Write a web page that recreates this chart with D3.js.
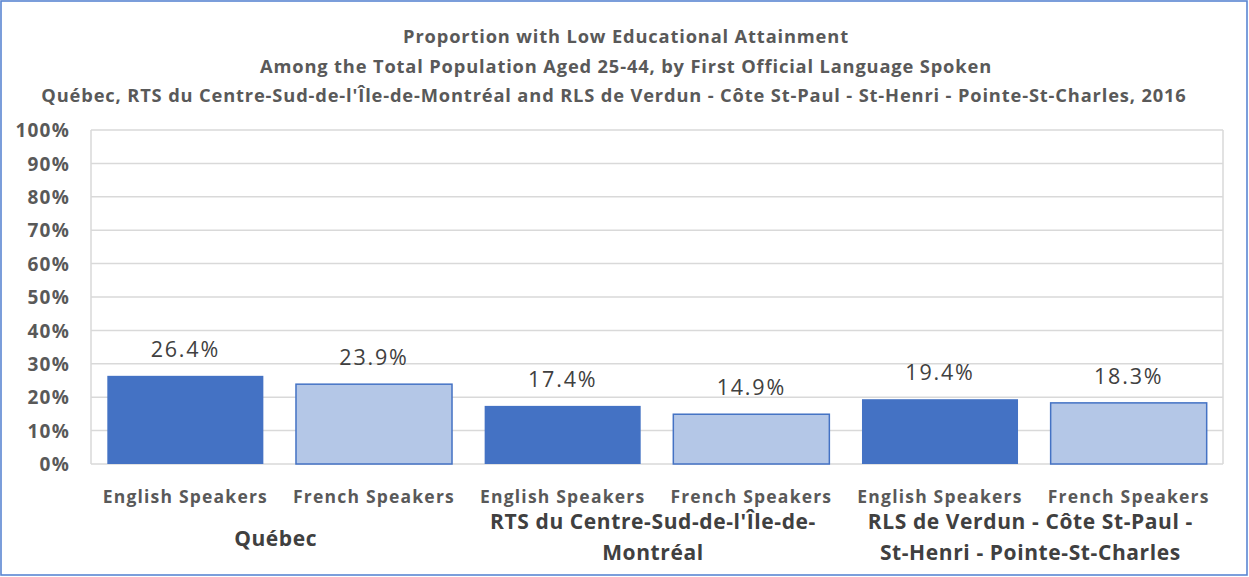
<!DOCTYPE html>
<html><head><meta charset="utf-8">
<script src="https://cdn.jsdelivr.net/npm/d3@7"></script>
<style>body{margin:0;background:#fff}svg{display:block}text{font-family:"Open Sans",Lato,sans-serif}</style>
</head><body>
<svg id="c" width="1249" height="577"></svg>
<script>
const titleLines = ["Proportion with Low Educational Attainment",
  "Among the Total Population Aged 25-44, by First Official Language Spoken",
  "Québec, RTS du Centre-Sud-de-l'Île-de-Montréal and RLS de Verdun - Côte St-Paul - St-Henri - Pointe-St-Charles, 2016"];
const groups = ["Québec", "RTS", "RLS"];
const groupLabels = [["Québec"], ["RTS du Centre-Sud-de-l'Île-de-", "Montréal"], ["RLS de Verdun  - Côte St-Paul -", "St-Henri - Pointe-St-Charles"]];
const speakers = ["English Speakers", "French Speakers"];
const values = [26.4, 23.9, 17.4, 14.9, 19.4, 18.3];
const yTicks = [0,10,20,30,40,50,60,70,80,90,100];

const svg = d3.select("#c");
const L = 91, R = 1223, T = 130, B = 464;
const cats = values.map((v,i)=>i);
const x = d3.scaleBand().domain(cats).range([L,R]).paddingInner(0.165).paddingOuter(0.0825);
const y = d3.scaleLinear().domain([0,100]).range([B,T]);

svg.append("rect").attr("x",1).attr("y",1).attr("width",1246).attr("height",574)
  .attr("fill","#fff").attr("stroke","#5A86D2").attr("stroke-width",1.6);

svg.append("g").selectAll("text").data(titleLines).join("text")
  .attr("x",(d,i)=>i===2?614:626).attr("y",(d,i)=>43+i*29.5).attr("text-anchor","middle")
  .attr("font-size",18.3).attr("letter-spacing",0.85).attr("font-weight","bold").attr("fill","#595959").text(d=>d);

// gridlines
svg.append("g").selectAll("line").data(yTicks).join("line")
  .attr("x1",L).attr("x2",R).attr("y1",d=>y(d)).attr("y2",d=>y(d))
  .attr("stroke","#D9D9D9").attr("stroke-width",1.5);
svg.append("line").attr("x1",L).attr("x2",L).attr("y1",T).attr("y2",B).attr("stroke","#D9D9D9").attr("stroke-width",1.5);
svg.append("line").attr("x1",R).attr("x2",R).attr("y1",T).attr("y2",B).attr("stroke","#D9D9D9").attr("stroke-width",1.5);

// y axis
const ya = svg.append("g").attr("transform",`translate(${L-21},0)`)
  .call(d3.axisLeft(y).tickValues(yTicks).tickFormat(d=>d+"%").tickSize(0));
ya.select(".domain").remove();
ya.selectAll("text").attr("font-size",19).attr("letter-spacing",1.2).attr("font-weight","bold").attr("fill","#595959")
  .attr("font-family","'Open Sans',Lato,sans-serif").attr("dy","0.35em").attr("x",0);

// bars
svg.append("g").selectAll("rect").data(values).join("rect")
  .attr("x",(d,i)=>x(i)+0.75).attr("width",x.bandwidth()-1.5)
  .attr("y",d=>y(d)).attr("height",d=>B-y(d))
  .attr("fill",(d,i)=>i%2===0?"#4472C4":"#B4C7E7")
  .attr("stroke","#4472C4").attr("stroke-width",(d,i)=>i%2===0?0:1.5);

// value labels
svg.append("g").selectAll("text").data(values).join("text")
  .attr("x",(d,i)=>x(i)+x.bandwidth()/2).attr("y",d=>y(d)-19)
  .attr("text-anchor","middle").attr("font-size",21.5).attr("letter-spacing",1.8).attr("fill","#404040")
  .text(d=>d.toFixed(1)+"%");

// category labels
svg.append("g").selectAll("text").data(values).join("text")
  .attr("x",(d,i)=>x(i)+x.bandwidth()/2).attr("y",503)
  .attr("text-anchor","middle").attr("font-size",17.5).attr("letter-spacing",1.2).attr("font-weight","bold").attr("fill","#595959")
  .text((d,i)=>speakers[i%2]);

// group labels
const gw = (R-L)/groups.length;
groupLabels.forEach((lines,gi)=>{
  const cx = L + gw*gi + gw/2 - 4;
  const startY = lines.length===1 ? 546 : 529;
  svg.append("text").attr("x",cx).attr("text-anchor","middle").attr("font-size",21)
    .attr("letter-spacing",0.6).attr("font-weight","bold").attr("fill","#404040")
    .selectAll("tspan").data(lines).join("tspan")
    .attr("x",cx).attr("y",(d,i)=>startY+i*31).text(d=>d);
});
</script>
</body></html>
